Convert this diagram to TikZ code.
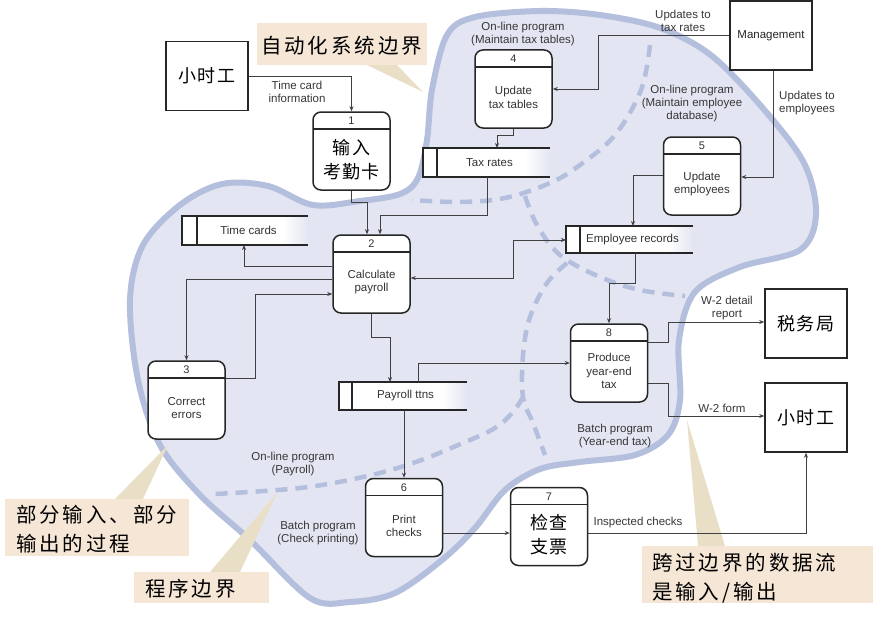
\documentclass[tikz,border=0pt]{standalone}
\usepackage{fontspec}
\setmainfont{Liberation Sans}
\newfontfamily\cjk[LetterSpace=8]{Noto Sans CJK SC}
\newfontfamily\cjkc[LetterSpace=14]{Noto Sans CJK SC}
\usetikzlibrary{arrows.meta}
\definecolor{blobfill}{RGB}{227,230,242}
\definecolor{blobline}{RGB}{180,191,221}
\definecolor{callbg}{RGB}{245,230,214}
\definecolor{calltail}{RGB}{233,223,198}
\definecolor{lbl}{RGB}{55,55,55}

\newcommand\dfdproc[6][]{%
  \node[proc] (#2) at (#3,#4) {};
  \draw[line width=1.2pt, black!85] ([xshift=0.75pt,yshift=-17.75pt]#2.north west) -- ([xshift=-0.75pt,yshift=-17.75pt]#2.north east);
  \node[numtxt] (#2-n) at ([yshift=-9.5pt]#2.north) {#5};
  \node[ptext,#1] (#2-t) at ([yshift=-48pt]#2.north) {#6};
}
\newcommand\dfdstore[7]{%
  \fill[white] (#2,#3) rectangle (#4-25,#5);
  \shade[left color=white, right color=blobfill] (#4-25.2,#3) rectangle (#4,#5);
  \draw[line width=1.3pt, black!85] (#4,#3) -- (#2,#3) -- (#2,#5) -- (#4,#5);
  \draw[line width=1.3pt, black!85] (#6,#3) -- (#6,#5);
  \node[inner sep=0pt, outer sep=0pt, minimum width={#4-#2}, minimum height={#5-#3}] (#1) at ({(#2+#4)/2},{(#3+#5)/2}) {};
  \node[ptext] (#1-t) at ({(#6+#4)/2-4},{(#3+#5)/2}) {#7};
}

\begin{document}
\begin{tikzpicture}[x=1pt,y=-1pt,
  proc/.style={draw=black!85, line width=1.5pt, rounded corners=8pt, fill=white, minimum width=77pt, minimum height=78pt, inner sep=0pt},
  ext/.style={draw=black!85, line width=1.5pt, fill=white, minimum width=82pt, minimum height=69pt, inner sep=0pt},
  flow/.style={draw=black!75, line width=0.8pt, -{Stealth[length=5pt,width=4pt]}},
  lab/.style={font=\fontsize{11.5}{13}\selectfont, text=lbl, align=center, inner sep=0pt},
  ptext/.style={font=\fontsize{11.5}{13.5}\selectfont, text=black!80, align=center, inner sep=0pt},
  numtxt/.style={font=\fontsize{11}{12}\selectfont, text=black!80, inner sep=0pt},
  cjkin/.style={font=\cjk\fontsize{18}{24}\selectfont, text=black},
  callout/.style={fill=callbg, inner sep=0pt},
  calltext/.style={font=\cjkc\fontsize{20.5}{29}\selectfont, text=black, align=left, inner sep=0pt, anchor=west},
  tail/.style={fill=calltail},
  bound/.style={draw=blobline, line width=6pt},
  pbound/.style={draw=blobline, line width=4.5pt, dash pattern=on 12pt off 8pt}
]
\useasboundingbox (0,0) rectangle (873,626);

% automated system boundary
\draw[bound, fill=blobfill] plot[smooth cycle, tension=0.55] coordinates {
 (447,35) (475,17) (540,11) (600,15) (660,28) (712,56) (767,113) (805,165) (816,215) (800,250) (740,267) (695,292) (679,340) (680,400) (668,435) (635,455) (580,462) (540,469) (505,490) (475,528) (442,560) (395,593) (350,602) (310,598) (250,540) (200,495) (160,445) (138,380) (130,300) (143,245) (180,205) (222,184) (268,186) (313,205) (360,201) (400,194) (418,178) (427,140) (432,90)};

% program boundaries
\draw[pbound] plot[smooth, tension=0.6] coordinates {(650,45) (641,90) (615,135) (580,165) (550,183) (505,198) (460,202) (412,200)};
\draw[pbound] plot[smooth, tension=0.6] coordinates {(525,196) (537,225) (560,255) (600,277) (640,290) (685,296)};
\draw[pbound] plot[smooth, tension=0.6] coordinates {(567,263) (547,283) (530,317) (523,355) (523,397) (533,423) (545,455)};
\draw[pbound] plot[smooth, tension=0.6] coordinates {(523,397) (513,412) (495,428) (463,443) (413,463) (363,477) (300,488) (215,494)};

% callouts
\fill[tail] (367,65) -- (397,65) -- (423,92) -- cycle;
\node[callout, minimum width=170pt, minimum height=42pt] (c1) at (342,44) {};
\node[calltext] (c1-t) at (261,46) {自动化系统边界};

\fill[tail] (115,499) -- (143,499) -- (168,445) -- cycle;
\node[callout, minimum width=184pt, minimum height=57pt] (c2) at (97,527.5) {};
\node[calltext] (c2-t) at (16,529) {部分输入、部分\\输出的过程};

\fill[tail] (210,572) -- (240,572) -- (277,493) -- cycle;
\node[callout, minimum width=135pt, minimum height=31pt] (c3) at (201.5,587.5) {};
\node[calltext] (c3-t) at (145,589) {程序边界};

\fill[tail] (698,546) -- (725,546) -- (687,420) -- cycle;
\node[callout, minimum width=231pt, minimum height=57pt] (c4) at (757.5,574.5) {};
\node[calltext] (c4-t) at (652,578) {跨过边界的数据流\\是输入/输出};

% data stores
\dfdstore{taxrates}{423}{148}{550}{177}{437}{Tax rates}
\dfdstore{tcards}{182}{216}{308}{245}{197}{Time cards}
\dfdstore{emprec}{566}{226}{693}{253}{580}{Employee records}
\dfdstore{payroll}{339}{382}{467}{410}{352}{Payroll ttns}

% processes
\dfdproc[cjkin]{p1}{351.5}{151}{1}{输入\\考勤卡}
\dfdproc{p2}{371.5}{274}{2}{Calculate\\payroll}
\dfdproc{p3}{186.5}{400}{3}{Correct\\errors}
\dfdproc{p4}{513.5}{89}{4}{Update\\tax tables}
\dfdproc{p5}{702}{176}{5}{Update\\employees}
\dfdproc{p6}{404}{517.5}{6}{Print\\checks}
\dfdproc[cjkin]{p7}{549}{526.5}{7}{检查\\支票}
\dfdproc{p8}{609}{363}{8}{Produce\\year-end\\tax}

% external entities
\node[ext, cjkin] (ext1) at (207,76) {小时工};
\node[ext, font=\fontsize{11.5}{13}\selectfont, text=black!85] (mgmt) at (771,35.5) {Management};
\node[ext, cjkin] (irs) at (806,323.5) {税务局};
\node[ext, cjkin] (ext2) at (806,417.5) {小时工};

% data flows
\draw[flow] (ext1.east) -| (p1.north);
\draw[flow] (mgmt.west) -| (598,89) -- (p4.east);
\draw[flow] (p4.south) |- (497,135) -- (497,0 |- taxrates.north);
\draw[flow] (487,0 |- taxrates.south) |- (380,215) -- (380,0 |- p2.north);
\draw[flow] (p1.south) |- (367,202) -- (367,0 |- p2.north);
\draw[flow] (p2.west |- 0,266) -| (244,0 |- tcards.south);
\draw[flow] (p2.west |- 0,279) -| (p3.north);
\draw[flow] (p3.east |- 0,378) -| (255,294) -- (p2.west |- 0,294);
\draw[flow] (p2.south) |- (390,337) -- (390,0 |- payroll.north);
\draw[flow] (418,0 |- payroll.north) |- (p8.west);
\draw[flow] (404,0 |- payroll.south) -- (p6.north);
\draw[flow] (p6.east |- 0,533) -- (p7.west |- 0,533);
\draw[flow] (p7.east |- 0,533) -| (ext2.south);
\draw[flow] (p8.east |- 0,342) -| (668,322) -- (irs.west |- 0,322);
\draw[flow] (p8.east |- 0,383) -| (668,416) -- (ext2.west |- 0,416);
\draw[flow] (635,0 |- emprec.south) |- (609,283) -- (p8.north);
\draw[flow, {Stealth[length=5pt,width=4pt]}-{Stealth[length=5pt,width=4pt]}] (p2.east |- 0,278) -| (513,240) -- (emprec.west |- 0,240);
\draw[flow] (773,0 |- mgmt.south) |- (p5.east |- 0,177);
\draw[flow] (p5.west |- 0,175) -| (633,0 |- emprec.north);

% labels
\node[lab] (l-tc) at (297,92) {Time card\\information};
\node[lab] (l-p4) at (523,34) {On-line program\\(Maintain tax tables)};
\node[lab] (l-utr) at (683,21) {Updates to\\tax rates};
\node[lab] (l-p5) at (692,104) {On-line program\\(Maintain employee\\database)};
\node[lab] (l-ue) at (807,103) {Updates to\\employees};
\node[lab] (l-w2d) at (727,308) {W-2 detail\\report};
\node[lab] (l-w2f) at (722,408) {W-2 form};
\node[lab] (l-bp8) at (615,436) {Batch program\\(Year-end tax)};
\node[lab] (l-olp) at (293,464) {On-line program\\(Payroll)};
\node[lab] (l-bcp) at (318,533) {Batch program\\(Check printing)};
\node[lab] (l-ic) at (638,523) {Inspected checks};
\end{tikzpicture}
\end{document}
